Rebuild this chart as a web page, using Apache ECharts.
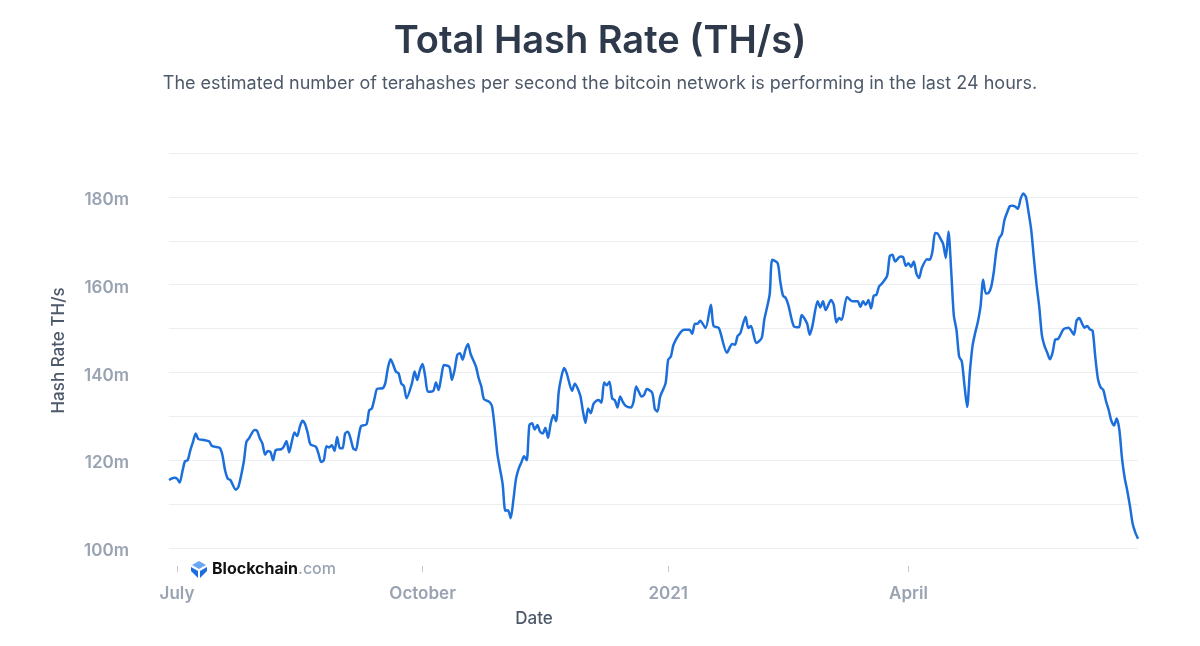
<!DOCTYPE html>
<html>
<head>
<meta charset="utf-8">
<script src="https://cdn.jsdelivr.net/npm/echarts@6/dist/echarts.min.js"></script>
<style>
html,body{margin:0;padding:0;background:#fff;}
#chart{width:1200px;height:646px;}
</style>
</head>
<body>
<div id="chart"></div>
<script>
// Days since 2020-07-01 at which values were read
const dayOffsets = [
  -3,-1,0,1,2,3,4,5,6,7,
  8,10,12,13,14,16,17,18,19,20,
  22,23,25,26,27,29,30,31,32,33,
  34,35,36,37,39,40,41,42,43,44,
  45,46,47,48,49,50,52,53,54,55,
  56,57,58,59,60,61,62,63,64,65,
  66,67,68,69,71,72,73,74,75,77,
  78,79,80,82,83,84,85,86,88,89,
  90,91,92,93,94,96,97,98,99,100,
  102,103,104,105,106,107,108,109,110,112,
  113,114,115,117,118,119,120,121,122,123,
  124,125,126,127,128,129,130,131,132,133,
  134,135,136,137,138,139,140,141,142,143,
  144,145,146,148,149,151,152,153,154,155,
  156,157,158,159,160,161,162,163,164,165,
  166,167,168,170,171,172,173,174,175,176,
  178,179,180,181,183,184,185,186,188,190,
  192,193,194,195,196,198,200,201,203,206,
  208,209,210,211,213,214,215,217,219,220,
  222,223,225,226,227,228,229,231,233,234,
  236,237,238,240,241,242,243,245,246,247,
  248,249,251,253,255,256,257,258,259,260,
  261,262,263,264,266,267,268,269,271,272,
  273,274,275,276,277,278,279,281,282,283,
  284,285,286,287,288,289,290,291,292,293,
  294,295,296,297,298,299,300,301,302,303,
  304,305,306,307,308,309,310,311,312,313,
  314,315,316,317,318,319,320,321,322,323,
  324,325,326,327,328,329,330,331,332,333,
  334,335,336,337,338,339,340,341,342,343,
  344,345,346,347,348,349,350,351,352,353,
  354,355,356,357,358,359,360
];
// Total hash rate, millions of TH/s
const hashRate = [
  115.5,116.0,115.8,114.9,117.4,119.8,120.0,122.3,124.2,126.1,
  124.8,124.6,124.3,123.3,123.1,122.8,121.2,117.7,115.8,115.5,
  113.3,113.9,119.6,124.2,125.0,126.9,126.7,125.0,123.8,121.3,
  122.1,121.9,120.0,122.3,122.5,123.1,124.4,121.8,124.2,126.3,
  125.5,127.6,129.0,128.2,126.1,123.6,123.1,121.5,119.6,120.0,
  123.2,122.9,123.4,122.1,125.3,122.7,122.7,126.1,126.5,125.0,
  122.7,122.3,125.3,127.8,128.2,131.4,131.8,134.1,136.3,136.4,
  137.5,141.0,143.0,140.2,139.8,137.5,136.9,134.1,137.5,140.2,
  138.3,140.6,141.9,139.0,135.6,135.8,137.7,136.0,139.0,141.7,
  141.3,138.3,140.6,144.0,144.4,142.9,145.1,146.5,144.2,141.3,
  138.7,136.8,133.9,133.3,132.3,127.5,121.5,118.0,114.5,108.5,
  108.6,106.8,110.9,115.8,118.1,119.5,120.9,120.0,128.0,128.4,
  127.0,128.0,126.5,126.1,127.4,125.1,128.4,130.3,128.9,135.6,
  139.0,141.0,139.8,135.8,137.4,134.9,131.4,128.5,131.8,130.7,
  132.8,133.5,133.7,133.1,137.7,137.1,137.9,134.1,133.7,132.0,
  134.5,133.3,132.4,132.0,133.3,136.8,135.6,134.5,134.9,136.2,
  135.4,131.7,131.1,134.5,137.5,142.9,143.6,146.3,148.6,149.7,
  149.7,148.8,151.1,151.1,151.8,150.1,155.4,150.6,150.1,144.5,
  146.5,146.3,148.3,148.9,152.7,150.1,150.6,146.7,147.8,152.0,
  157.7,165.7,164.9,160.7,157.5,157.0,155.4,150.6,150.3,153.1,
  151.2,148.6,150.5,156.2,154.8,156.2,154.2,156.5,155.5,151.4,
  152.4,152.0,157.2,156.2,156.2,154.9,156.2,155.4,156.5,154.6,
  157.5,157.7,159.6,160.2,162.0,166.5,166.8,165.3,166.4,166.3,
  164.3,164.9,164.1,165.3,162.5,161.5,163.8,165.8,165.7,167.6,
  171.8,171.6,170.5,169.3,166.1,172.1,163.4,153.0,149.7,143.6,
  142.5,137.0,132.1,140.0,146.0,149.0,151.5,155.0,161.1,158.0,
  158.1,159.5,163.0,168.0,170.6,171.5,174.8,176.5,177.9,178.0,
  177.8,177.3,179.5,180.8,180.0,176.5,172.5,166.0,160.0,155.0,
  148.5,146.0,144.5,143.0,144.5,147.5,147.6,148.6,149.8,150.1,
  150.2,149.5,148.6,151.8,152.4,151.2,150.2,150.6,149.8,149.5,
  143.5,138.5,136.6,136.0,133.5,131.5,129.0,127.9,129.5,127.0,
  120.5,116.0,113.0,109.5,105.5,103.5,102.1
];
// Tick positions (days since 2020-07-01: Jul 1, Oct 1, Jan 1, Apr 1) and their labels
const tickDays = [0, 92, 184, 274];
const tickLabels = ['July','October','2021','April'];
const rangeStartDay = -3, rangeEndDay = 360;

const seriesData = dayOffsets.map((d, i) => [d, hashRate[i]]);

const FONT = 'Inter, "Noto Sans", sans-serif';
const chart = echarts.init(document.getElementById('chart'), null, {renderer: 'canvas'});
chart.setOption({
  animation: false,
  backgroundColor: '#ffffff',
  title: [
    {text: 'Total Hash Rate (TH/s)', left: 'center', top: 18,
     textStyle: {fontFamily: FONT, fontSize: 38, fontWeight: 600, color: '#2e3a4b'}},
    {text: 'The estimated number of terahashes per second the bitcoin network is performing in the last 24 hours.',
     left: 'center', top: 70,
     textStyle: {fontFamily: FONT, fontSize: 18, fontWeight: 400, color: '#4d5869'}}
  ],
  grid: {left: 169, right: 62, top: 153, bottom: 98},
  xAxis: {
    type: 'value',
    min: rangeStartDay, max: rangeEndDay,
    offset: 18,
    axisLine: {show: false},
    axisTick: {show: true, customValues: tickDays, length: 6, lineStyle: {color: '#c3c8d0', width: 1}},
    axisLabel: {
      customValues: tickDays,
      margin: 19,
      fontFamily: FONT, fontSize: 17, fontWeight: 600, color: '#9aa3b2',
      formatter: v => { const i = tickDays.indexOf(Math.round(v)); return i >= 0 ? tickLabels[i] : ''; }
    },
    splitLine: {show: false}
  },
  yAxis: {
    type: 'value', min: 100, max: 190, interval: 10,
    axisLine: {show: false}, axisTick: {show: false},
    axisLabel: {
      margin: 40, fontFamily: FONT, fontSize: 17, fontWeight: 600, color: '#9aa3b2',
      formatter: v => (v % 20 === 0 ? '{v|' + v + 'm}' : ''),
      rich: {v: {fontFamily: FONT, fontSize: 17, fontWeight: 600, color: '#9aa3b2', padding: [6, 0, 0, 0]}}
    },
    splitLine: {lineStyle: {color: '#eceef2', width: 1}},
    name: 'Hash Rate TH/s', nameLocation: 'middle', nameGap: 102, nameRotate: 90,
    nameTextStyle: {fontFamily: FONT, fontSize: 17, fontWeight: 500, color: '#4d5869'}
  },
  series: [{
    type: 'line', data: seriesData, showSymbol: false, smooth: 0.25,
    lineStyle: {color: '#1c6fdb', width: 2.5}
  }],
  graphic: [
    {type: 'text', x: 534, y: 619,
     style: {text: 'Date', fontFamily: FONT, fontSize: 17, fontWeight: 500, fill: '#4d5869', align: 'center', verticalAlign: 'middle'}},
    {type: 'group', left: 191, top: 561,
     children: [
       {type: 'polygon', shape: {points: [[8,0],[15,4],[8,8],[1,4]]}, style: {fill: '#6aa6f2'}},
       {type: 'polygon', shape: {points: [[0,6],[7,10],[7,17],[3,13],[0,10]]}, style: {fill: '#1c6fdb'}},
       {type: 'polygon', shape: {points: [[16,6],[9,10],[9,17],[13,13],[16,10]]}, style: {fill: '#1c6fdb'}},
       {type: 'text', x: 21, y: 0, style: {
         text: '{a|Blockchain}{b|.com}',
         rich: {
           a: {fontFamily: FONT, fontSize: 16, fontWeight: 700, fill: '#111111'},
           b: {fontFamily: FONT, fontSize: 16, fontWeight: 500, fill: '#9aa3b2'}
         }}}
     ]}
  ]
});
</script>
</body>
</html>
